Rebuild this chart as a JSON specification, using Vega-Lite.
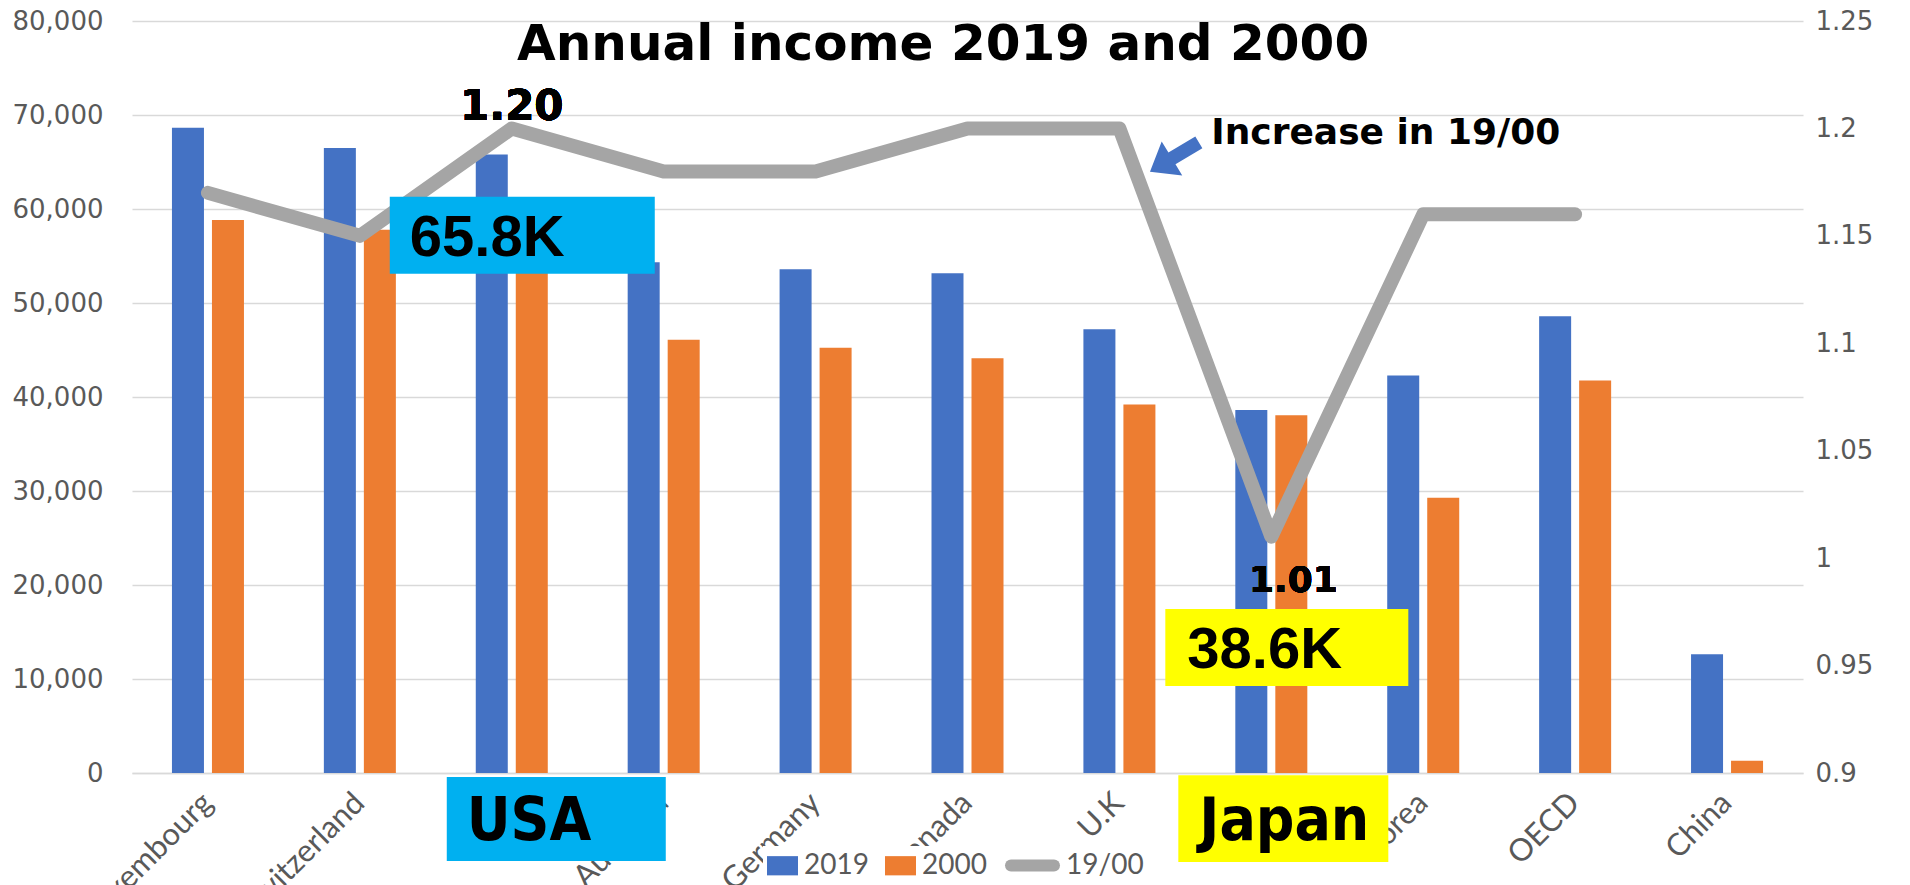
{
  "$schema": "https://vega.github.io/schema/vega-lite/v6.json",
  "width": 1671,
  "height": 752,
  "autosize": {"type": "none"},
  "padding": {"left": 132, "top": 21, "right": 107, "bottom": 112},
  "background": "white",
  "config": {"view": {"stroke": null}, "font": "DejaVu Sans"},
  "datasets": {
    "bars": [
      {"country": "Luxembourg", "year": "2019", "income": 68650},
      {"country": "Luxembourg", "year": "2000", "income": 58830},
      {"country": "Switzerland", "year": "2019", "income": 66500},
      {"country": "Switzerland", "year": "2000", "income": 57800},
      {"country": "USA", "year": "2019", "income": 65800},
      {"country": "USA", "year": "2000", "income": 54800},
      {"country": "Australia", "year": "2019", "income": 54330},
      {"country": "Australia", "year": "2000", "income": 46100},
      {"country": "Germany", "year": "2019", "income": 53580},
      {"country": "Germany", "year": "2000", "income": 45250},
      {"country": "Canada", "year": "2019", "income": 53160},
      {"country": "Canada", "year": "2000", "income": 44110},
      {"country": "U.K", "year": "2019", "income": 47200},
      {"country": "U.K", "year": "2000", "income": 39200},
      {"country": "Japan", "year": "2019", "income": 38620},
      {"country": "Japan", "year": "2000", "income": 38050},
      {"country": "Korea", "year": "2019", "income": 42300},
      {"country": "Korea", "year": "2000", "income": 29290},
      {"country": "OECD", "year": "2019", "income": 48600},
      {"country": "OECD", "year": "2000", "income": 41750},
      {"country": "China", "year": "2019", "income": 12640},
      {"country": "China", "year": "2000", "income": 1300}
    ],
    "ratio": [
      {"country": "Luxembourg", "ratio": 1.17},
      {"country": "Switzerland", "ratio": 1.15},
      {"country": "USA", "ratio": 1.20},
      {"country": "Australia", "ratio": 1.18},
      {"country": "Germany", "ratio": 1.18},
      {"country": "Canada", "ratio": 1.20},
      {"country": "U.K", "ratio": 1.20},
      {"country": "Japan", "ratio": 1.01},
      {"country": "Korea", "ratio": 1.16},
      {"country": "OECD", "ratio": 1.16}
    ]
  },
  "layer": [
    {
      "data": {"name": "bars"},
      "mark": {"type": "bar"},
      "encoding": {
        "x": {
          "field": "country",
          "type": "nominal",
          "scale": {
            "domain": ["Luxembourg", "Switzerland", "USA", "Australia", "Germany", "Canada", "U.K", "Japan", "Korea", "OECD", "China"],
            "paddingInner": 0.526,
            "paddingOuter": 0.263
          },
          "axis": {
            "title": null,
            "labelAngle": -45,
            "labelAlign": "right",
            "labelBaseline": "middle",
            "labelFont": "Lato",
            "labelFontSize": 31,
            "labelColor": "#595959",
            "labelPadding": 25,
            "ticks": false,
            "domainColor": "#D9D9D9",
            "domainWidth": 1.5,
            "grid": false
          }
        },
        "xOffset": {
          "field": "year",
          "type": "nominal",
          "sort": ["2019", "2000"],
          "scale": {"paddingInner": 0.2, "paddingOuter": 0}
        },
        "y": {
          "field": "income",
          "type": "quantitative",
          "scale": {"domain": [0, 80000], "nice": false},
          "axis": {
            "title": null,
            "orient": "left",
            "values": [0, 10000, 20000, 30000, 40000, 50000, 60000, 70000, 80000],
            "format": ",.0f",
            "labelFont": "DejaVu Sans",
            "labelFontSize": 26,
            "labelColor": "#595959",
            "labelPadding": 29,
            "ticks": false,
            "domain": false,
            "grid": true,
            "gridColor": "#D9D9D9",
            "gridWidth": 1.5
          }
        },
        "color": {
          "field": "year",
          "type": "nominal",
          "sort": ["2019", "2000"],
          "scale": {"domain": ["2019", "2000"], "range": ["#4472C4", "#ED7D31"]},
          "legend": {
            "title": null,
            "orient": "none",
            "direction": "horizontal",
            "legendX": 631,
            "legendY": 825,
            "padding": 4,
            "fillColor": "#FFFFFF",
            "labelFont": "Lato",
            "labelFontSize": 28,
            "labelColor": "#595959",
            "labelOffset": 6,
            "columnPadding": 16,
            "symbolType": "M-1,-0.62L1,-0.62L1,0.62L-1,0.62Z",
            "symbolSize": 961,
            "symbolStrokeWidth": 0,
            "symbolOpacity": 1
          }
        }
      }
    },
    {
      "data": {"name": "ratio"},
      "encoding": {
        "x": {"field": "country", "type": "nominal"},
        "y": {
          "field": "ratio",
          "type": "quantitative",
          "scale": {"domain": [0.9, 1.25], "nice": false, "zero": false},
          "axis": {
            "title": null,
            "orient": "right",
            "values": [0.9, 0.95, 1, 1.05, 1.1, 1.15, 1.2, 1.25],
            "format": "~g",
            "labelFont": "DejaVu Sans",
            "labelFontSize": 26,
            "labelColor": "#595959",
            "labelPadding": 12,
            "ticks": false,
            "domain": false,
            "grid": false
          }
        }
      },
      "layer": [
        {
          "mark": {"type": "line", "strokeWidth": 14, "strokeCap": "round", "strokeJoin": "round"},
          "encoding": {
            "stroke": {
              "datum": "19/00",
              "type": "nominal",
              "scale": {"domain": ["19/00"], "range": ["#A5A5A5"]},
              "legend": {
                "title": null,
                "orient": "none",
                "direction": "horizontal",
                "legendX": 873,
                "legendY": 817,
                "padding": 0,
                "labelFont": "Lato",
                "labelFontSize": 28,
                "labelColor": "#595959",
                "labelOffset": 6,
                "symbolType": "stroke",
                "symbolSize": 1849,
                "symbolStrokeWidth": 12,
                "symbolStrokeColor": "#A5A5A5",
                "symbolOpacity": 1,
                "encode": {"symbols": {"update": {"strokeCap": {"value": "round"}}}}
              }
            }
          }
        },
        {
          "mark": {"type": "text", "text": "1.20", "align": "center", "baseline": "alphabetic", "dy": -8, "dx": 0, "font": "DejaVu Sans", "fontSize": 42, "fontWeight": "bold", "color": "#000000"},
          "encoding": {"x": {"datum": "USA", "type": "nominal"}, "y": {"datum": 1.2, "type": "quantitative"}}
        },
        {
          "mark": {"type": "text", "text": "1.01", "align": "center", "baseline": "alphabetic", "dy": 55, "dx": 22, "font": "DejaVu Sans", "fontSize": 36, "fontWeight": "bold", "color": "#000000"},
          "encoding": {"x": {"datum": "Japan", "type": "nominal"}, "y": {"datum": 1.01, "type": "quantitative"}}
        }
      ]
    },
    {
      "data": {"values": [{}]},
      "encoding": {
        "y": {"type": "quantitative", "scale": {"domain": [0, 80000], "nice": false}, "axis": null}
      },
      "layer": [
        {
          "mark": {"type": "text", "text": "Annual income 2019 and 2000", "align": "center", "baseline": "alphabetic", "dx": 127.5, "font": "DejaVu Sans", "fontSize": 50, "fontWeight": "bold", "color": "#000000"},
          "encoding": {"x": {"datum": "Germany", "type": "nominal"}, "y": {"datum": 75850}}
        },
        {
          "mark": {"type": "bar", "color": "#00B0F0", "width": 265, "xOffset": 10.5},
          "encoding": {"x": {"datum": "USA", "type": "nominal"}, "y": {"datum": 61300}, "y2": {"datum": 53100}}
        },
        {
          "mark": {"type": "bar", "color": "#FFFF00", "width": 243, "xOffset": 15.5},
          "encoding": {"x": {"datum": "Japan", "type": "nominal"}, "y": {"datum": 17450}, "y2": {"datum": 9250}}
        },
        {
          "mark": {"type": "bar", "color": "#00B0F0", "width": 219, "xOffset": 44.5},
          "encoding": {"x": {"datum": "USA", "type": "nominal"}, "y": {"datum": -420}, "y2": {"datum": -9360}}
        },
        {
          "mark": {"type": "bar", "color": "#FFFF00", "width": 210, "xOffset": 12},
          "encoding": {"x": {"datum": "Japan", "type": "nominal"}, "y": {"datum": -250}, "y2": {"datum": -9470}}
        },
        {
          "mark": {"type": "text", "text": "65.8K", "align": "left", "baseline": "alphabetic", "dx": -102, "font": "Liberation Sans", "fontSize": 58, "fontWeight": "bold", "color": "#000000"},
          "encoding": {"x": {"datum": "USA", "type": "nominal"}, "y": {"datum": 55000}}
        },
        {
          "mark": {"type": "text", "text": "38.6K", "align": "left", "baseline": "alphabetic", "dx": -84, "font": "Liberation Sans", "fontSize": 58, "fontWeight": "bold", "color": "#000000"},
          "encoding": {"x": {"datum": "Japan", "type": "nominal"}, "y": {"datum": 11170}}
        },
        {
          "mark": {"type": "text", "text": "USA", "align": "left", "baseline": "alphabetic", "dx": -45, "font": "DejaVu Sans Condensed", "fontSize": 60, "fontWeight": "bold", "color": "#000000"},
          "encoding": {"x": {"datum": "USA", "type": "nominal"}, "y": {"datum": -7130}}
        },
        {
          "mark": {"type": "text", "text": "Japan", "align": "left", "baseline": "alphabetic", "dx": -72, "font": "DejaVu Sans Condensed", "fontSize": 60, "fontWeight": "bold", "color": "#000000"},
          "encoding": {"x": {"datum": "Japan", "type": "nominal"}, "y": {"datum": -7130}}
        },
        {
          "mark": {"type": "text", "text": "Increase in 19/00", "align": "left", "baseline": "alphabetic", "dx": -60, "font": "DejaVu Sans", "fontSize": 36, "fontWeight": "bold", "color": "#000000"},
          "encoding": {"x": {"datum": "Japan", "type": "nominal"}, "y": {"datum": 66900}}
        },
        {
          "mark": {"type": "point", "shape": "M1,0L0.1,-0.7L0.1,-0.24L-1,-0.24L-1,0.24L0.1,0.24L0.1,0.7Z", "filled": true, "color": "#4472C4", "opacity": 1, "size": 3249, "angle": 149, "xOffset": 55},
          "encoding": {"x": {"datum": "U.K", "type": "nominal"}, "y": {"datum": 65530}}
        }
      ]
    }
  ],
  "resolve": {"scale": {"y": "independent"}}
}
